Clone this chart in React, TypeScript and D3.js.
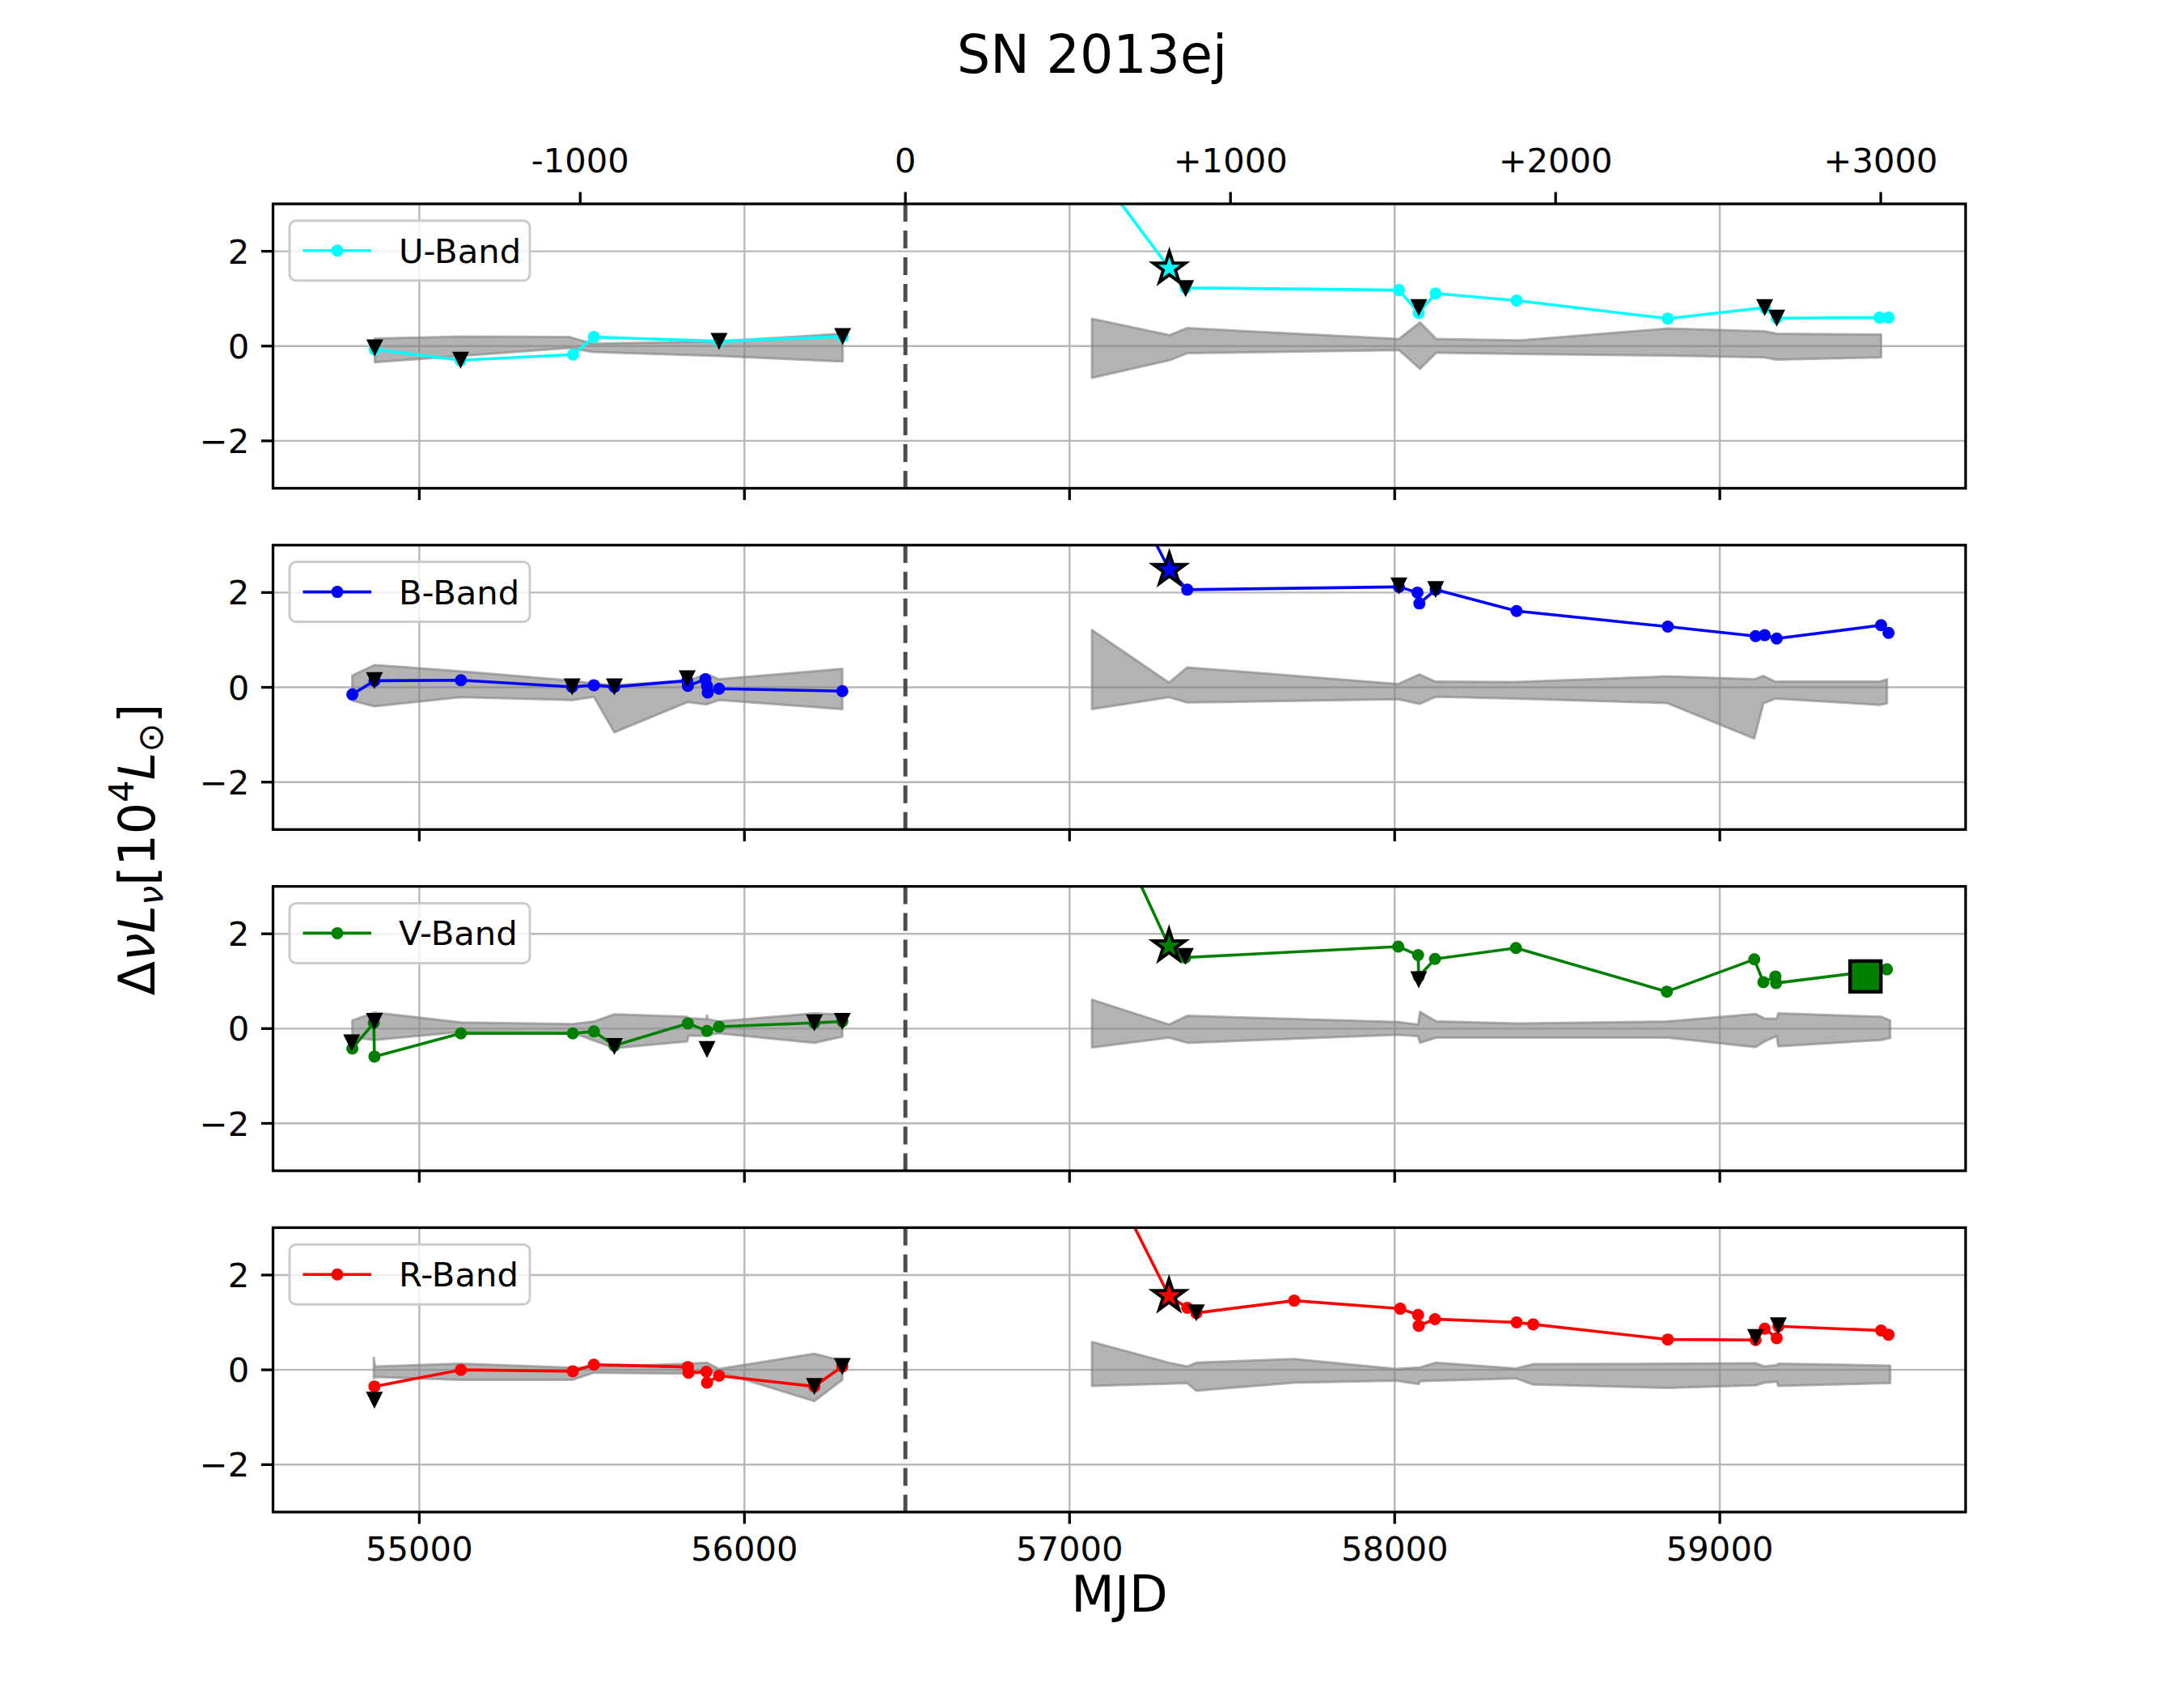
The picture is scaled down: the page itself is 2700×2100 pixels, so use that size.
import React from 'react';
import * as d3 from 'd3';

// ---------- layout constants ----------
const W = 2700, H = 2100;
const LEFT = 337.5, RIGHT = 2430;
const PANEL_TOPS = [252, 673.8, 1095.6, 1517.4];
const PH = 351.5;
const XLIM = [54550, 59756];
const YLIM = [-3, 3];
const T0 = 56495; // explosion epoch (MJD)

// ---------- ticks ----------
const X_TICKS = [55000, 56000, 57000, 58000, 59000];
const X_TICK_LABELS = ['55000', '56000', '57000', '58000', '59000'];
const Y_TICKS = [-2, 0, 2];
const Y_TICK_LABELS = ['\u22122', '0', '2'];
const TOP_TICKS = [-1000, 0, 1000, 2000, 3000];
const TOP_TICK_LABELS = ['-1000', '0', '+1000', '+2000', '+3000'];

// ---------- data: U ----------
const U_PRE = [[54863,-0.07],[55127,-0.30],[55473,-0.18],[55537,0.19],[55922,0.10],[56302,0.20]];
const U_POST = [[57050,4.0],[57307,1.64],[57357,1.23],[58013,1.18],[58074,0.70],[58126,1.11],[58375,0.96],[58840,0.58],[59138,0.81],[59175,0.59],[59491,0.60],[59519,0.60]];
const U_LIMITS = [[54863,-0.04],[55127,-0.30],[55922,0.10],[56302,0.20],[57357,1.21],[58074,0.81],[59138,0.81],[59175,0.59]];
const U_STAR = [57307,1.64];
const U_NOISE_PRE = [[54863,-0.34,0.16],[55127,-0.21,0.20],[55462,-0.04,0.19],[55533,-0.125,0.05],[55922,-0.21,0.10],[56302,-0.325,0.26]];
const U_NOISE_POST = [[57069,-0.67,0.575],[57307,-0.30,0.23],[57362,-0.15,0.38],[58013,-0.085,0.15],[58078,-0.48,0.50],[58128,-0.14,0.15],[58385,-0.165,0.12],[58840,-0.20,0.37],[59138,-0.24,0.31],[59175,-0.285,0.26],[59496,-0.24,0.245]];

// ---------- data: B ----------
const B_PRE = [[54794,-0.15],[54862,0.14],[55128,0.15],[55470,0.01],[55537,0.045],[55600,0.01],[55824,0.14],[55826,0.03],[55880,0.17],[55885,0.03],[55887,-0.11],[55922,-0.03],[56301,-0.08]];
const B_POST = [[57200,3.9],[57307,2.48],[57362,2.06],[58013,2.12],[58070,2.0],[58076,1.77],[58126,2.06],[58375,1.61],[58840,1.28],[59110,1.08],[59138,1.10],[59175,1.03],[59496,1.31],[59519,1.15]];
const B_LIMITS = [[54862,0.14],[55470,0.01],[55600,0.01],[55824,0.18],[58013,2.14],[58126,2.06]];
const B_STAR = [57307,2.48];
const B_NOISE_PRE = [[54794,-0.28,0.25],[54862,-0.40,0.47],[55128,-0.21,0.34],[55470,-0.27,0.14],[55537,-0.20,0.08],[55600,-0.95,0.045],[55826,-0.31,0.14],[55883,-0.36,0.28],[55922,-0.27,0.17],[56301,-0.46,0.39]];
const B_NOISE_POST = [[57069,-0.46,1.21],[57306,-0.21,0.10],[57362,-0.32,0.42],[58011,-0.25,0.07],[58076,-0.35,0.27],[58126,-0.20,0.12],[58373,-0.24,0.11],[58837,-0.33,0.23],[59106,-1.08,0.17],[59134,-0.34,0.24],[59171,-0.24,0.12],[59492,-0.37,0.12],[59514,-0.34,0.17]];

// ---------- data: V ----------
const V_PRE = [[54794,-0.42],[54860,0.12],[54862,-0.59],[55128,-0.10],[55472,-0.10],[55537,-0.06],[55600,-0.36],[55826,0.11],[55885,-0.05],[55922,0.04],[56215,0.12],[56301,0.15]];
const V_POST = [[57150,4.05],[57306,1.74],[57356,1.50],[58011,1.73],[58072,1.55],[58074,1.10],[58124,1.47],[58373,1.70],[58837,0.78],[59106,1.46],[59134,0.98],[59171,1.10],[59173,0.96],[59514,1.25]];
const V_LIMITS = [[54792,-0.30],[54862,0.15],[55600,-0.38],[55885,-0.44],[56215,0.12],[56301,0.15],[57356,1.52],[58074,1.03]];
const V_STAR = [57306,1.74];
const V_SQUARE = [59448,1.10];
const V_NOISE_PRE = [[54794,-0.18,0.17],[54862,-0.24,0.34],[55128,-0.07,0.13],[55472,-0.09,0.095],[55537,-0.25,0.15],[55600,-0.41,0.30],[55824,-0.27,0.25],[55828,-0.15,0.22],[55883,-0.15,0.20],[55885,-0.14,0.28],[55887,-0.13,0.20],[55922,-0.10,0.15],[56215,-0.30,0.32],[56301,-0.17,0.30]];
const V_NOISE_POST = [[57069,-0.40,0.61],[57306,-0.19,0.085],[57362,-0.30,0.27],[58011,-0.13,0.14],[58072,-0.16,0.085],[58078,-0.30,0.35],[58128,-0.19,0.15],[58375,-0.19,0.11],[58840,-0.19,0.15],[59110,-0.39,0.31],[59138,-0.27,0.21],[59175,-0.16,0.21],[59180,-0.375,0.32],[59496,-0.24,0.25],[59524,-0.20,0.17]];

// ---------- data: R ----------
const R_PRE = [[54862,-0.35],[55128,0.0],[55472,-0.03],[55537,0.11],[55826,0.06],[55828,-0.06],[55883,-0.04],[55885,-0.27],[55922,-0.125],[56215,-0.35],[56301,0.07]];
const R_POST = [[57100,4.37],[57306,1.56],[57362,1.31],[57390,1.20],[57691,1.46],[58017,1.29],[58072,1.16],[58074,0.93],[58124,1.07],[58375,1.00],[58426,0.96],[58840,0.64],[59110,0.63],[59138,0.87],[59175,0.67],[59180,0.92],[59496,0.83],[59519,0.74]];
const R_LIMITS = [[54862,-0.64],[56215,-0.35],[56301,0.07],[57390,1.20],[59110,0.68],[59180,0.93]];
const R_STAR = [57306,1.56];
const R_NOISE_PRE = [[54860,-0.18,0.26],[54864,-0.15,0.07],[55128,-0.21,0.13],[55472,-0.21,0.045],[55537,-0.06,0.06],[55826,-0.08,0.13],[55885,-0.07,0.15],[55922,-0.04,0.02],[56215,-0.66,0.34],[56301,-0.21,0.19]];
const R_NOISE_POST = [[57069,-0.34,0.59],[57306,-0.29,0.15],[57362,-0.28,0.07],[57390,-0.44,0.15],[57691,-0.27,0.23],[58004,-0.23,0.02],[58074,-0.30,0.05],[58078,-0.24,0.05],[58126,-0.23,0.15],[58373,-0.18,0.03],[58426,-0.31,0.12],[58840,-0.38,0.13],[59110,-0.325,0.14],[59138,-0.27,0.07],[59175,-0.25,0.10],[59180,-0.34,0.13],[59524,-0.28,0.09]];

const BAND_NAMES = ['U-Band', 'B-Band', 'V-Band', 'R-Band'];
const BAND_COLORS = ['#00ffff', '#0000ff', '#008000', '#ff0000'];

const PANELS = [
  { name: BAND_NAMES[0], color: BAND_COLORS[0], lines: [U_PRE, U_POST], limits: U_LIMITS, star: U_STAR, noise: [U_NOISE_PRE, U_NOISE_POST], square: null },
  { name: BAND_NAMES[1], color: BAND_COLORS[1], lines: [B_PRE, B_POST], limits: B_LIMITS, star: B_STAR, noise: [B_NOISE_PRE, B_NOISE_POST], square: null },
  { name: BAND_NAMES[2], color: BAND_COLORS[2], lines: [V_PRE, V_POST], limits: V_LIMITS, star: V_STAR, noise: [V_NOISE_PRE, V_NOISE_POST], square: V_SQUARE },
  { name: BAND_NAMES[3], color: BAND_COLORS[3], lines: [R_PRE, R_POST], limits: R_LIMITS, star: R_STAR, noise: [R_NOISE_PRE, R_NOISE_POST], square: null },
];

const FONT = 'DejaVu Sans, Verdana, sans-serif';
const TICK_FS = 41.7;
const TICK_LEN = 14.6;
const SPINE_W = 3.3;

const x = d3.scaleLinear().domain(XLIM).range([LEFT, RIGHT]);
const starPath = d3.symbol().type(d3.symbolStar).size(480)() as string;

function Panel({ p, idx }: { p: any; idx: number }) {
  const top = PANEL_TOPS[idx];
  const y = d3.scaleLinear().domain(YLIM).range([top + PH, top]);
  const clipId = `clip${idx}`;
  const line = d3.line<number[]>().x(d => x(d[0])).y(d => y(d[1]));
  const area = d3.area<number[]>().x(d => x(d[0])).y0(d => y(d[1])).y1(d => y(d[2]));
  const tri = (cx: number, cy: number) => `M${cx - 10.5},${cy - 10.5}L${cx + 10.5},${cy - 10.5}L${cx},${cy + 10.5}Z`;
  const legY = top + 20.8;
  return (
    <g>
      <defs>
        <clipPath id={clipId}>
          <rect x={LEFT} y={top} width={RIGHT - LEFT} height={PH} />
        </clipPath>
      </defs>
      {X_TICKS.map(t => (
        <line key={'gx' + t} x1={x(t)} x2={x(t)} y1={top} y2={top + PH} stroke="#b8b8b8" strokeWidth={2.4} />
      ))}
      {Y_TICKS.map(t => (
        <line key={'gy' + t} x1={LEFT} x2={RIGHT} y1={y(t)} y2={y(t)} stroke="#b8b8b8" strokeWidth={2.4} />
      ))}
      <g clipPath={`url(#${clipId})`}>
        {p.noise.map((n: number[][], i: number) => (
          <path key={'n' + i} d={area(n) as string} fill="#808080" fillOpacity={0.6} stroke="#808080" strokeOpacity={0.6} strokeWidth={3} strokeLinejoin="round" />
        ))}
        <line x1={x(T0)} x2={x(T0)} y1={top} y2={top + PH} stroke="#4d4d4d" strokeWidth={5} strokeDasharray="22,11" />
        {p.lines.map((l: number[][], i: number) => (
          <path key={'l' + i} d={line(l) as string} fill="none" stroke={p.color} strokeWidth={3.6} strokeLinejoin="round" />
        ))}
        {p.lines.map((l: number[][], i: number) =>
          l.map((d, j) => <circle key={`c${i}-${j}`} cx={x(d[0])} cy={y(d[1])} r={7.5} fill={p.color} />)
        )}
        {p.limits.map((d: number[], j: number) => (
          <path key={'t' + j} d={tri(x(d[0]), y(d[1]))} fill="#000" />
        ))}
        <path d={starPath} transform={`translate(${x(p.star[0])},${y(p.star[1])})`} fill={p.color} stroke="#000" strokeWidth={4} strokeLinejoin="miter" />
        {p.square && (
          <rect x={x(p.square[0]) - 19} y={y(p.square[1]) - 19} width={38} height={38} fill={p.color} stroke="#000" strokeWidth={4.5} />
        )}
      </g>
      <rect x={LEFT} y={top} width={RIGHT - LEFT} height={PH} fill="none" stroke="#000" strokeWidth={SPINE_W} />
      {X_TICKS.map(t => (
        <line key={'bt' + t} x1={x(t)} x2={x(t)} y1={top + PH} y2={top + PH + TICK_LEN} stroke="#000" strokeWidth={SPINE_W} />
      ))}
      {Y_TICKS.map((t, i) => (
        <g key={'yt' + t}>
          <line x1={LEFT - TICK_LEN} x2={LEFT} y1={y(t)} y2={y(t)} stroke="#000" strokeWidth={SPINE_W} />
          <text x={LEFT - TICK_LEN - 14.6} y={y(t) + 15} textAnchor="end" fontSize={TICK_FS} fontFamily={FONT}>{Y_TICK_LABELS[i]}</text>
        </g>
      ))}
      {idx === 3 && X_TICKS.map((t, i) => (
        <text key={'xl' + t} x={x(t)} y={1929} textAnchor="middle" fontSize={TICK_FS} fontFamily={FONT}>{X_TICK_LABELS[i]}</text>
      ))}
      {idx === 0 && TOP_TICKS.map((t, i) => (
        <g key={'tt' + t}>
          <line x1={x(T0 + t)} x2={x(T0 + t)} y1={top - TICK_LEN} y2={top} stroke="#000" strokeWidth={SPINE_W} />
          <text x={x(T0 + t)} y={213} textAnchor="middle" fontSize={TICK_FS} fontFamily={FONT}>{TOP_TICK_LABELS[i]}</text>
        </g>
      ))}
      <g>
        <rect x={358} y={legY} width={297} height={74} rx={8} ry={8} fill="#fff" fillOpacity={0.8} stroke="#cccccc" strokeWidth={3} />
        <line x1={374.5} x2={459} y1={legY + 37} y2={legY + 37} stroke={p.color} strokeWidth={3.6} />
        <circle cx={417} cy={legY + 37} r={7.5} fill={p.color} />
        <text x={493} y={legY + 52} fontSize={TICK_FS} fontFamily={FONT}>{p.name}</text>
      </g>
    </g>
  );
}

export default function App() {
  const sub = 43;
  return (
    <svg width={W} height={H} viewBox={`0 0 ${W} ${H}`} style={{ position: 'absolute', left: 0, top: 0, background: '#fff' }}>
      <rect x={0} y={0} width={W} height={H} fill="#fff" />
      <text x={1350} y={90} textAnchor="middle" fontSize={65} fontFamily={FONT}>SN 2013ej</text>
      {PANELS.map((p, i) => <Panel key={p.name} p={p} idx={i} />)}
      <text x={1384} y={1992} textAnchor="middle" fontSize={62} fontFamily={FONT}>MJD</text>
      <text transform="translate(191,1050) rotate(-90)" textAnchor="middle" fontSize={62} fontFamily={FONT}>
        <tspan>Δ</tspan>
        <tspan fontStyle="italic">νL</tspan>
        <tspan fontStyle="italic" fontSize={sub} dy={10}>ν</tspan>
        <tspan dy={-10}>[10</tspan>
        <tspan fontSize={sub} dy={-26}>4</tspan>
        <tspan fontStyle="italic" dy={26}>L</tspan>
        <tspan fontSize={sub} dy={10}>⊙</tspan>
        <tspan dy={-10}>]</tspan>
      </text>
    </svg>
  );
}
